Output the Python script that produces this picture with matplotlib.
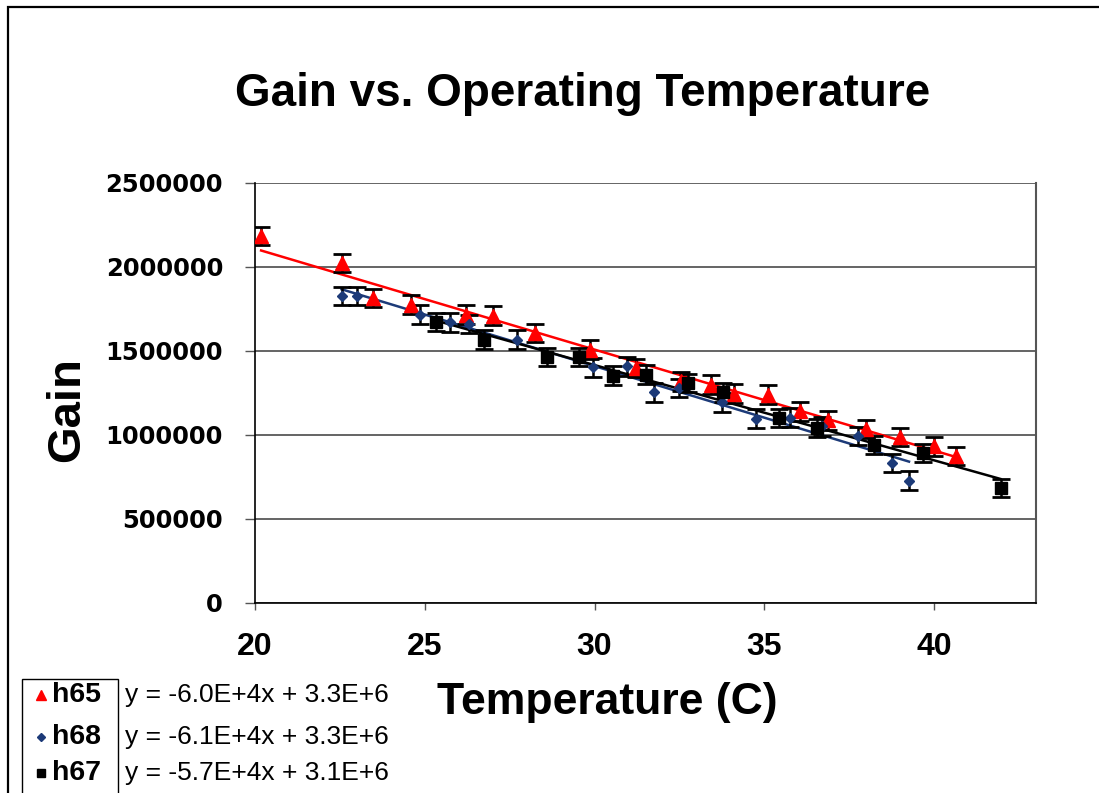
import numpy as np
import matplotlib.pyplot as plt
from matplotlib.patches import Rectangle
from matplotlib.lines import Line2D

# gain measurements per tube, temperature in C
h65_temp = [20.18, 22.55, 23.47, 24.6, 26.2, 27.02, 28.24, 29.87, 31.23, 32.56,
            33.44, 34.1, 35.12, 36.06, 36.87, 37.99, 38.99, 40.0, 40.63]
h65_gain = [2183000, 2025000, 1816000, 1776000, 1717000, 1711000, 1608000, 1508000,
            1399000, 1319000, 1300000, 1246000, 1240000, 1140000, 1087000, 1037000,
            988000, 932000, 876000]

h68_temp = [22.55, 23.0, 24.87, 25.73, 26.3, 27.73, 29.94, 30.95, 31.75, 32.5,
            33.75, 34.75, 35.76, 36.69, 37.75, 38.75, 39.26]
h68_gain = [1826000, 1826000, 1717000, 1671000, 1661000, 1568000, 1403000, 1409000,
            1254000, 1280000, 1194000, 1097000, 1104000, 1051000, 995000, 833000, 729000]

h67_temp = [25.33, 26.75, 28.6, 29.55, 30.55, 31.5, 32.76, 33.77, 35.42, 36.54,
            38.24, 39.68, 41.96]
h67_gain = [1672000, 1568000, 1465000, 1465000, 1353000, 1359000, 1310000, 1254000,
            1101000, 1041000, 942000, 892000, 684000]

gain_err = 55000

fit_labels = ["y = -6.0E+4x + 3.3E+6",
              "y = -6.1E+4x + 3.3E+6",
              "y = -5.7E+4x + 3.1E+6"]

series = [
    ("h65", h65_temp, h65_gain, "#ff0000", "^", 9.5),
    ("h68", h68_temp, h68_gain, "#1c3a78", "D", 5.5),
    ("h67", h67_temp, h67_gain, "#000000", "s", 8),
]

W, H = 1099, 793
fig = plt.figure(figsize=(W / 100, H / 100), dpi=100)
ax = fig.add_axes([255 / W, 1 - 603 / H, (1036 - 255) / W, (603 - 183) / H])

for name, t, g, col, mk, ms in series:
    t = np.array(t)
    g = np.array(g)
    # linear trendline over the measured range
    k, b = np.polyfit(t, g, 1)
    xs = np.array([t.min(), t.max()])
    ax.plot(xs, k * xs + b, color=col, lw=1.8, zorder=2)
    ax.errorbar(t, g, yerr=gain_err, fmt=mk, color=col, ms=ms, mec=col,
                ecolor="black", elinewidth=1.8, capsize=6.5, capthick=2, zorder=3)

ax.set_xlim(20, 43)
ax.set_ylim(0, 2500000)
ax.set_xticks([20, 25, 30, 35, 40])
ax.set_yticks(np.arange(0, 2500001, 500000))
ax.set_yticklabels([str(v) for v in range(0, 2500001, 500000)])
ax.yaxis.grid(True, color="#3a3a3a", lw=1.1)
ax.set_axisbelow(True)

ax.spines["top"].set_visible(False)
ax.spines["right"].set_color("#555555")
ax.spines["right"].set_linewidth(1.5)
ax.spines["left"].set_linewidth(1.2)
ax.spines["bottom"].set_linewidth(1.2)

ax.tick_params(axis="y", direction="out", length=7, width=1, color="#555555", pad=16)
ax.tick_params(axis="x", direction="out", length=5, width=1, color="#555555", pad=16)
for lab in ax.get_yticklabels():
    lab.set_fontfamily("DejaVu Sans")
    lab.set_fontweight("bold")
    lab.set_fontsize(17.5)
for lab in ax.get_xticklabels():
    lab.set_fontfamily("Liberation Sans")
    lab.set_fontweight("bold")
    lab.set_fontsize(23)

fig.text(583 / W, 1 - 106 / H, "Gain vs. Operating Temperature", ha="center",
         va="baseline", fontsize=33, fontweight="bold", family="Liberation Sans")
fig.text(607 / W, 1 - 714 / H, "Temperature (C)", ha="center", va="baseline",
         fontsize=32, fontweight="bold", family="Liberation Sans")
fig.text(67 / W, 1 - 410 / H, "Gain", ha="center", va="center", rotation=90,
         fontsize=34, fontweight="bold", family="Liberation Sans")

# legend box (series names) and the trendline equations beside it
fig.patches.append(Rectangle((22 / W, -0.05), 96 / W, 0.05 + 1 - 679 / H,
                             transform=fig.transFigure, fill=False,
                             edgecolor="black", lw=1.0))
rows = [695, 737, 773]
for (name, t, g, col, mk, ms), lbl, yp in zip(series, fit_labels, rows):
    yf = 1 - yp / H
    fig.add_artist(Line2D([41 / W], [yf], ls="none", marker=mk, color=col,
                          ms=ms * 0.7, transform=fig.transFigure))
    fig.text(52 / W, yf, name, ha="left", va="center", fontsize=20.5,
             fontweight="bold", family="Liberation Sans")
    fig.text(125 / W, yf, lbl, ha="left", va="center", fontsize=19,
             family="Liberation Sans")

# outer chart border
fig.patches.append(Rectangle((8 / W, -0.1), 1.2, 1.1 - 7 / H, transform=fig.transFigure,
                             fill=False, edgecolor="black", lw=1.6))

fig.savefig("out.png", dpi=100)
